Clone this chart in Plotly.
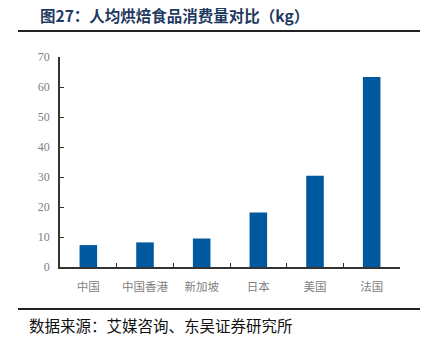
import plotly.graph_objects as go

categories = ["中国", "中国香港", "新加坡", "日本", "美国", "法国"]
values = [7.3, 8.2, 9.5, 18.2, 30.4, 63.3]
y_ticks = [0, 10, 20, 30, 40, 50, 60, 70]

title_text = "图27：人均烘焙食品消费量对比（kg）"
source_text = "数据来源：艾媒咨询、东吴证券研究所"

W, H = 424, 346
L, R, T, B = 60, 24, 57, 79

fig = go.Figure()
fig.add_trace(go.Bar(
    x=categories, y=values,
    marker=dict(color="#00589E", line=dict(width=0)),
    width=0.31,
))

fig.update_layout(
    width=W, height=H,
    margin=dict(l=L, r=R, t=T, b=B),
    paper_bgcolor="white", plot_bgcolor="white",
    showlegend=False,
    font=dict(family="Noto Sans CJK SC", color="#7f7f7f"),
    xaxis=dict(
        showline=True, linecolor="#333333", linewidth=1.5,
        ticks="inside", tickson="boundaries", ticklen=4, tickcolor="#333333", tickwidth=1,
        tickfont=dict(family="Noto Sans CJK SC", size=11.5, color="#808080"),
        tickangle=0,
        ticklabelstandoff=8,
        showgrid=False, zeroline=False, fixedrange=True,
    ),
    yaxis=dict(
        range=[0, 70], tickvals=y_ticks,
        showline=True, linecolor="#333333", linewidth=1.5,
        ticks="inside", ticklen=4, tickcolor="#333333", tickwidth=1,
        tickfont=dict(family="Liberation Serif", size=12, color="#808080"),
        ticklabelstandoff=6,
        showgrid=False, zeroline=False,
    ),
    shapes=[
        dict(type="line", xref="paper", yref="paper",
             x0=(18 - L) / (W - L - R), x1=(420 - L) / (W - L - R),
             y0=(H - B - 31) / (H - T - B), y1=(H - B - 31) / (H - T - B),
             line=dict(color="#222222", width=2)),
        dict(type="line", xref="paper", yref="paper",
             x0=(18 - L) / (W - L - R), x1=(420 - L) / (W - L - R),
             y0=(H - B - 309) / (H - T - B), y1=(H - B - 309) / (H - T - B),
             line=dict(color="#222222", width=2)),
    ],
    annotations=[
        dict(text="<b>" + title_text + "</b>", xref="paper", yref="paper",
             x=(38 - L) / (W - L - R), y=(H - B - 15) / (H - T - B),
             xanchor="left", yanchor="middle", showarrow=False,
             font=dict(family="Noto Sans CJK SC", size=15.5, color="#1F3A60")),
        dict(text=source_text, xref="paper", yref="paper",
             x=(27 - L) / (W - L - R), y=(H - B - 325) / (H - T - B),
             xanchor="left", yanchor="middle", showarrow=False,
             font=dict(family="Noto Sans CJK SC", size=15.5, color="#111111")),
    ],
)

fig.write_html("out.html")
